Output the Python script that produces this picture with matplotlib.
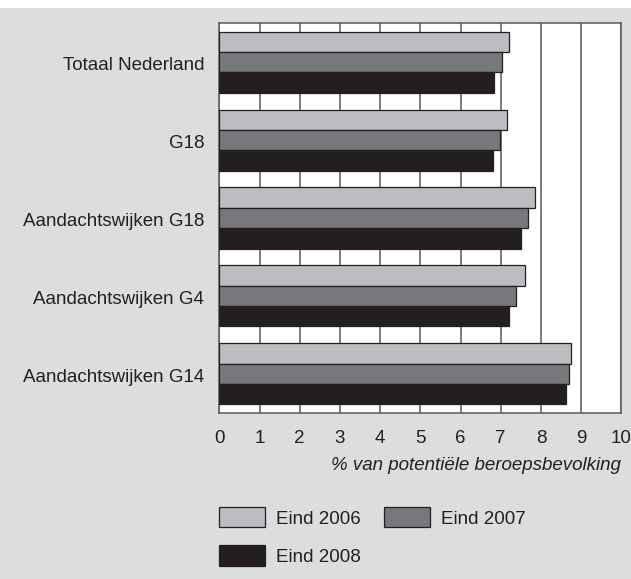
import matplotlib
matplotlib.use("Agg")
import matplotlib.pyplot as plt
import matplotlib.transforms as mtransforms
import numpy as np
from matplotlib.patches import Rectangle

categories = ["Totaal Nederland", "G18", "Aandachtswijken G18",
              "Aandachtswijken G4", "Aandachtswijken G14"]
series_names = ["Eind 2006", "Eind 2007", "Eind 2008"]
eind_2006 = [7.20, 7.16, 7.85, 7.60, 8.76]
eind_2007 = [7.02, 6.99, 7.67, 7.38, 8.70]
eind_2008 = [6.84, 6.80, 7.50, 7.20, 8.63]
xticks = list(range(0, 11))
xlabel = "% van potentiële beroepsbevolking"

colors = ["#bcbdc0", "#77787b", "#231f20"]
edge = "#231f20"
bg = "#dcdddf"
fs = 13.5

plt.rcParams["font.family"] = ["Liberation Sans", "DejaVu Sans"]

fig = plt.figure(figsize=(6.31, 5.79), dpi=100, facecolor=bg)
fig.add_artist(Rectangle((0, 1 - 8.3 / 579), 1, 8.3 / 579, transform=fig.transFigure,
                         facecolor="white", edgecolor="none", zorder=0))
ax = fig.add_axes([219.3 / 631, 1 - 412.7 / 579, (621.3 - 219.3) / 631, (412.7 - 23.3) / 579])
ax.set_facecolor("white")

n = len(categories)
y = np.arange(n)
h = 0.262
series = [eind_2006, eind_2007, eind_2008]
handles = []
for i, (vals, name, c) in enumerate(zip(series, series_names, colors)):
    b = ax.barh(y + (i - 1) * h, vals, height=h, color=c, edgecolor=edge,
                linewidth=0.9, label=name, zorder=3)
    handles.append(b)

ax.set_xlim(0, 10)
ax.set_ylim(n - 0.5, -0.5)
ax.set_xticks(xticks)
ax.set_xticklabels([str(t) for t in xticks], fontsize=fs, color="#231f20")
ax.set_yticks(y)
ax.set_yticklabels([])
trans = mtransforms.blended_transform_factory(ax.transAxes, ax.transData) + \
    mtransforms.ScaledTranslation(-15 / 100, -3.5 / 100, fig.dpi_scale_trans)
for yi, cat in zip(y, categories):
    ax.text(0, yi, cat, transform=trans, ha="right", va="center",
            fontsize=fs, color="#231f20")
ax.tick_params(axis="both", length=0)
ax.tick_params(axis="x", pad=12.8)
ax.xaxis.grid(True, color="#58595b", linewidth=1.1, zorder=1)
ax.set_axisbelow(True)
for s in ax.spines.values():
    s.set_color("#58595b")
    s.set_linewidth(1.1)

ax.set_xlabel(xlabel, fontsize=fs, style="italic", loc="right", labelpad=6.8, color="#231f20")

leg = fig.legend([handles[0], handles[2], handles[1]],
                 [series_names[0], series_names[2], series_names[1]],
                 ncol=2, loc="upper left", bbox_to_anchor=(219 / 631, 1 - 507 / 579),
                 frameon=False, fontsize=fs, handlelength=2.45, handleheight=1.3,
                 handletextpad=0.59, columnspacing=1.23, labelspacing=0.95,
                 borderpad=0, borderaxespad=0)
for t in leg.get_texts():
    t.set_color("#231f20")

fig.savefig("out.png", dpi=100, facecolor=bg)
